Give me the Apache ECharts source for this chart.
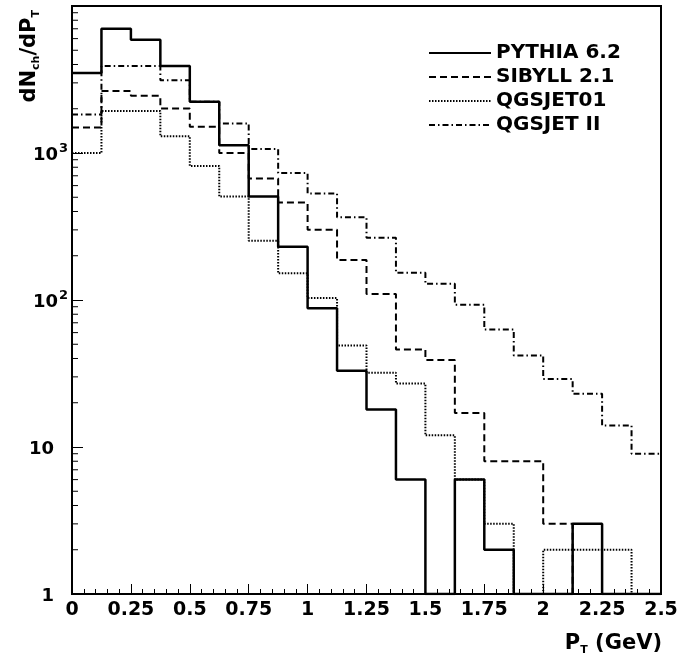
<!DOCTYPE html>
<html lang="en">
<head>
    <meta charset="utf-8">
    <title>dNch/dPT</title>
    <script src="https://cdn.jsdelivr.net/npm/echarts@6/dist/echarts.min.js"></script>
    <style>
        html, body { margin: 0; padding: 0; background: #fff; }
    </style>
</head>
<body>
<div id="main" style="width:696px;height:661px"></div>
<script type="text/javascript">
    // bin width of the histograms (GeV), 20 bins from 0 to 2.5
    var binWidth = 0.125;
    var xTicks = [0, 0.25, 0.5, 0.75, 1, 1.25, 1.5, 1.75, 2, 2.25, 2.5];

    // values, one per bin (0 = empty bin)
    var pythia   = [3500, 7000, 5900, 3900, 2230, 1130, 505, 230, 88, 33, 18, 6, 0, 6, 2, 0, 0, 3, 0, 0];
    var sibyll   = [1490, 2640, 2450, 2010, 1510, 1000, 670, 460, 300, 187, 110, 46, 39, 17, 8, 8, 3, 0, 0, 0];
    var qgsjet01 = [1000, 1930, 1930, 1300, 815, 505, 253, 152, 103, 49, 32, 27, 12, 6, 3, 0, 2, 2, 2, 0];
    var qgsjet2  = [1830, 3900, 3900, 3120, 2230, 1590, 1065, 730, 530, 365, 265, 153, 129, 93, 63, 42, 29, 23, 14, 9];

    var names = ['PYTHIA 6.2', 'SIBYLL 2.1', 'QGSJET01', 'QGSJET II'];

    var font = 'DejaVu Sans';

    // histogram outline: flat top over each bin, empty bins sit on the axis
    function steps(vals) {
        var pts = [];
        for (var i = 0; i < vals.length; i++) {
            var v = Math.max(vals[i], 1);
            pts.push([i * binWidth, v], [(i + 1) * binWidth, v]);
        }
        return pts;
    }

    // minor ticks of the log axis: 2..9 in each decade
    var minorY = [];
    for (var d = 1; d < 10000; d *= 10) {
        for (var m = 2; m <= 9; m++) minorY.push([0, m * d]);
    }

    var myChart = echarts.init(document.getElementById('main'));

    function hist(name, vals, type, width, z) {
        return {
            name: name,
            type: 'line',
            data: steps(vals),
            symbol: 'none',
            z: z,
            silent: true,
            itemStyle: { color: '#000' },
            lineStyle: { color: '#000', width: width, type: type }
        };
    }

    var option = {
        animation: false,
        backgroundColor: '#fff',
        grid: {
            left: 72, right: 35, top: 6, bottom: 67,
            show: true, borderColor: '#000', borderWidth: 2
        },
        legend: {
            data: names,
            orient: 'vertical',
            left: 423, top: 38,
            itemWidth: 62, itemHeight: 12, itemGap: 4,
            itemStyle: { opacity: 0 },
            textStyle: { fontFamily: font, fontWeight: 'bold', fontSize: 20, color: '#000', lineHeight: 20 }
        },
        xAxis: {
            type: 'value',
            min: 0, max: 2.5, interval: 0.25,
            axisLine: { lineStyle: { color: '#000', width: 2 } },
            axisTick: { inside: true, length: 10, lineStyle: { color: '#000', width: 1 } },
            minorTick: { show: true, splitNumber: 5, length: 5, lineStyle: { color: '#000', width: 1 } },
            splitLine: { show: false },
            axisLabel: {
                margin: 7, color: '#000',
                fontFamily: font, fontWeight: 'bold', fontSize: 19,
                formatter: function (v) { return String(v); }
            }
        },
        yAxis: {
            type: 'log', logBase: 10,
            min: 1, max: 10000,
            axisLine: { lineStyle: { color: '#000', width: 2 } },
            axisTick: { inside: true, length: 11, lineStyle: { color: '#000', width: 1 } },
            splitLine: { show: false },
            axisLabel: {
                margin: 4, color: '#000',
                formatter: function (v) {
                    if (v >= 10000) return '';
                    if (v >= 100) return '{n|10}{s|' + Math.round(Math.log10(v)) + '}';
                    return '{n|' + v + '}{p| }';
                },
                rich: {
                    n: { fontFamily: font, fontWeight: 'bold', fontSize: 18, color: '#000', lineHeight: 22, verticalAlign: 'bottom' },
                    s: { fontFamily: font, fontWeight: 'bold', fontSize: 13, color: '#000', lineHeight: 22, verticalAlign: 'top', padding: [0, 0, 8, 1] },
                    p: { fontSize: 13, width: 14 }
                }
            }
        },
        graphic: [
            {
                type: 'text', x: 662, y: 644,
                style: {
                    text: '{a|P}{t|T}{a| (GeV)}',
                    align: 'right', verticalAlign: 'middle',
                    rich: {
                        a: { fontFamily: font, fontWeight: 'bold', fontSize: 21, color: '#000', lineHeight: 24 },
                        t: { fontFamily: font, fontWeight: 'bold', fontSize: 11, color: '#000', lineHeight: 24, padding: [12, 0, 0, 0] }
                    }
                }
            },
            {
                type: 'text', x: 30, y: 10, rotation: Math.PI / 2,
                style: {
                    text: '{a|dN}{t|ch}{a|/dP}{t|T}',
                    align: 'right', verticalAlign: 'middle',
                    rich: {
                        a: { fontFamily: font, fontWeight: 'bold', fontSize: 21, color: '#000', lineHeight: 24 },
                        t: { fontFamily: font, fontWeight: 'bold', fontSize: 11, color: '#000', lineHeight: 24, padding: [12, 0, 0, 0] }
                    }
                }
            }
        ],
        series: [
            hist(names[3], qgsjet2, [6, 3, 1.5, 3], 2, 2),
            hist(names[2], qgsjet01, [1.5, 1.5], 2, 3),
            hist(names[1], sibyll, [7, 4], 2, 4),
            hist(names[0], pythia, 'solid', 2.5, 5),
            {
                type: 'custom',
                silent: true,
                data: minorY,
                z: 6,
                renderItem: function (params, api) {
                    var p = api.coord([api.value(0), api.value(1)]);
                    return {
                        type: 'line',
                        shape: { x1: p[0], y1: p[1], x2: p[0] + 6, y2: p[1] },
                        style: { stroke: '#000', lineWidth: 1 }
                    };
                }
            }
        ]
    };
    myChart.setOption(option);
</script>
</body>
</html>
